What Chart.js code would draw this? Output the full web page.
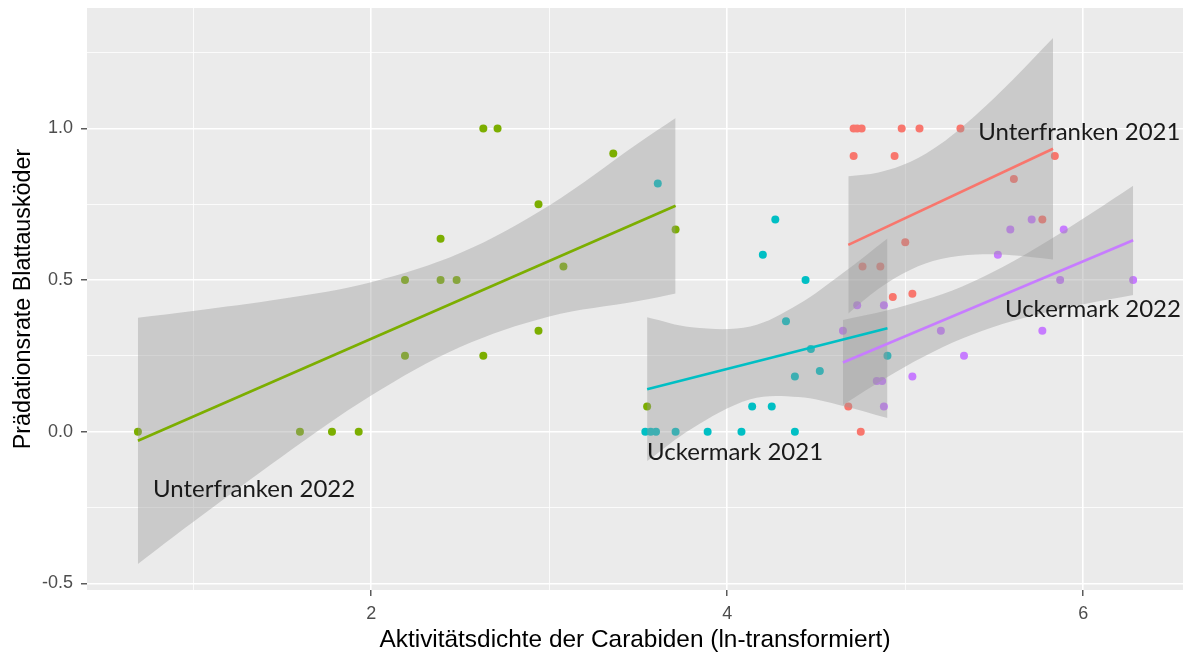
<!DOCTYPE html>
<html>
<head>
<meta charset="utf-8">
<script src="https://cdn.jsdelivr.net/npm/chart.js@4"></script>
<style>
  body { margin: 0; background: #fff; }
  #wrap { width: 1188px; height: 655px; }
</style>
</head>
<body>
<div id="wrap"><canvas id="plot"></canvas></div>
<script>
'use strict';

// axis ticks
const xMajorTicks = [2, 4, 6];
const xMinorTicks = [1, 3, 5];
const xTickLabels = ['2', '4', '6'];
const yMajorTicks = [-0.5, 0, 0.5, 1];
const yMinorTicks = [-0.25, 0.25, 0.75, 1.25];
const yTickLabels = ['-0.5', '0.0', '0.5', '1.0'];

// Unterfranken 2022
const uf22X = [0.69, 1.60, 1.78, 1.93, 2.19, 2.19, 2.39, 2.39, 2.48, 2.63, 2.63, 2.71, 2.94, 2.94, 3.08, 3.36, 3.55, 3.71];
const uf22Y = [0, 0, 0, 0, 0.5, 0.25, 0.636, 0.5, 0.5, 1.0, 0.25, 1.0, 0.75, 0.333, 0.545, 0.917, 0.083, 0.667];
const uf22FitX = [0.69, 3.71];
const uf22FitY = [-0.03, 0.745];
const uf22BandX = [0.69, 1.0, 1.5, 2.0, 2.5, 3.0, 3.5, 3.71];
const uf22BandHi = [0.376, 0.398, 0.438, 0.493, 0.589, 0.746, 0.951, 1.034];
const uf22BandLo = [-0.436, -0.298, -0.082, 0.119, 0.279, 0.380, 0.431, 0.456];

// Uckermark 2021
const um21X = [3.54, 3.57, 3.60, 3.61, 3.71, 3.89, 4.08, 4.14, 4.20, 4.25, 4.27, 4.33, 4.38, 4.38, 4.44, 4.47, 4.52, 4.90];
const um21Y = [0, 0, 0, 0.818, 0, 0, 0, 0.083, 0.583, 0.083, 0.7, 0.364, 0.182, 0, 0.5, 0.273, 0.2, 0.25];
const um21FitX = [3.55, 4.90];
const um21FitY = [0.14, 0.341];
const um21BandX = [3.55, 3.8, 4.13, 4.4, 4.65, 4.90];
const um21BandHi = [0.377, 0.344, 0.347, 0.420, 0.523, 0.637];
const um21BandLo = [-0.097, 0.010, 0.107, 0.114, 0.085, 0.045];

// Unterfranken 2021
const uf21X = [4.68, 4.71, 4.71, 4.73, 4.755, 4.75, 4.76, 4.86, 4.93, 4.94, 4.98, 5.00, 5.04, 5.08, 5.31, 5.61, 5.77, 5.84];
const uf21Y = [0.083, 1.0, 0.909, 1.0, 1.0, 0, 0.545, 0.545, 0.444, 0.909, 1.0, 0.625, 0.455, 1.0, 1.0, 0.833, 0.7, 0.909];
const uf21FitX = [4.68, 5.83];
const uf21FitY = [0.616, 0.933];
const uf21BandX = [4.68, 4.85, 5.03, 5.2, 5.4, 5.6, 5.83];
const uf21BandHi = [0.842, 0.855, 0.890, 0.949, 1.046, 1.158, 1.298];
const uf21BandLo = [0.390, 0.471, 0.534, 0.569, 0.584, 0.582, 0.568];

// Uckermark 2022
const um22X = [4.65, 4.73, 4.84, 4.87, 4.88, 4.88, 5.04, 5.20, 5.33, 5.52, 5.59, 5.71, 5.77, 5.87, 5.89, 6.28];
const um22Y = [0.333, 0.417, 0.167, 0.167, 0.083, 0.417, 0.182, 0.333, 0.25, 0.583, 0.667, 0.7, 0.333, 0.5, 0.667, 0.5];
const um22FitX = [4.65, 6.28];
const um22FitY = [0.228, 0.631];
const um22BandX = [4.65, 4.9, 5.1, 5.32, 5.55, 5.8, 6.05, 6.28];
const um22BandHi = [0.368, 0.400, 0.433, 0.479, 0.544, 0.629, 0.722, 0.811];
const um22BandLo = [0.088, 0.180, 0.246, 0.307, 0.356, 0.395, 0.426, 0.451];

// group labels inside the panel (left edge, vertical middle)
const groupLabels = ['Unterfranken 2022', 'Uckermark 2021', 'Unterfranken 2021', 'Uckermark 2022'];
const groupLabelX = [0.775, 3.55, 5.41, 5.56];
const groupLabelY = [-0.189, -0.067, 0.988, 0.405];

const RED = '#F8766D', GREEN = '#7CAE00', CYAN = '#00BFC4', PURPLE = '#C77CFF';
const BAND = 'rgba(153,153,153,0.4)';

const pts = (xs, ys) => xs.map((x, i) => ({x: x, y: ys[i]}));

function points(xs, ys, color) {
    return {
        type: 'scatter',
        data: pts(xs, ys),
        backgroundColor: color,
        borderWidth: 0,
        pointRadius: 4,
        order: 3
    };
}

function fit(xs, ys, color) {
    return {
        type: 'line',
        data: pts(xs, ys),
        borderColor: color,
        borderWidth: 2.6,
        pointRadius: 0,
        fill: false,
        order: 1
    };
}

// ribbon = upper edge filled down to the following (lower) dataset
function band(xs, hi, lo) {
    return [
        {
            type: 'line',
            data: pts(xs, hi),
            borderWidth: 0,
            borderColor: 'transparent',
            backgroundColor: BAND,
            pointRadius: 0,
            tension: 0.35,
            fill: '+1',
            order: 2
        },
        {
            type: 'line',
            data: pts(xs, lo),
            borderWidth: 0,
            borderColor: 'transparent',
            pointRadius: 0,
            tension: 0.35,
            fill: false,
            order: 2
        }
    ];
}

const panelBg = {
    id: 'panelBg',
    beforeDraw(chart) {
        const {ctx, chartArea: a} = chart;
        ctx.save();
        ctx.fillStyle = '#EBEBEB';
        ctx.fillRect(a.left, a.top, a.right - a.left, a.bottom - a.top);
        ctx.restore();
    }
};

const groupText = {
    id: 'groupText',
    afterDatasetsDraw(chart) {
        const {ctx, scales} = chart;
        ctx.save();
        ctx.font = '24px Lato';
        ctx.fillStyle = '#1a1a1a';
        ctx.textAlign = 'left';
        ctx.textBaseline = 'middle';
        groupLabels.forEach((t, i) => {
            ctx.fillText(t, scales.x.getPixelForValue(groupLabelX[i]), scales.y.getPixelForValue(groupLabelY[i]));
        });
        ctx.restore();
    }
};

const tickFont = {family: 'Liberation Sans', size: 18};

new Chart(document.getElementById('plot'), {
    type: 'scatter',
    data: {
        datasets: [
            fit(uf22FitX, uf22FitY, GREEN),
            fit(um21FitX, um21FitY, CYAN),
            fit(uf21FitX, uf21FitY, RED),
            fit(um22FitX, um22FitY, PURPLE),
            ...band(uf22BandX, uf22BandHi, uf22BandLo),
            ...band(um21BandX, um21BandHi, um21BandLo),
            ...band(uf21BandX, uf21BandHi, uf21BandLo),
            ...band(um22BandX, um22BandHi, um22BandLo),
            points(uf22X, uf22Y, GREEN),
            points(um21X, um21Y, CYAN),
            points(uf21X, uf21Y, RED),
            points(um22X, um22Y, PURPLE)
        ]
    },
    options: {
        responsive: true,
        maintainAspectRatio: false,
        animation: false,
        layout: {padding: {top: 8, right: 5, left: 0, bottom: 0}},
        plugins: {
            legend: {display: false},
            tooltip: {enabled: false}
        },
        scales: {
            x: {
                type: 'linear',
                min: 0.404,
                max: 6.56,
                afterBuildTicks: s => {
                    s.ticks = [...xMinorTicks, ...xMajorTicks].sort((a, b) => a - b).map(v => ({value: v}));
                },
                afterFit: s => {
                    s.height = 65;
                    s.paddingLeft = 0;
                    s.paddingRight = 0;
                },
                border: {display: false},
                grid: {
                    color: '#FFFFFF',
                    lineWidth: c => xMajorTicks.includes(c.tick.value) ? 1.6 : 0.8,
                    tickColor: c => xMajorTicks.includes(c.tick.value) ? '#333333' : 'rgba(0,0,0,0)',
                    tickWidth: 1.2,
                    tickLength: 6
                },
                ticks: {
                    autoSkip: false,
                    maxRotation: 0,
                    padding: 7,
                    color: '#4D4D4D',
                    font: tickFont,
                    callback: v => {
                        const i = xMajorTicks.indexOf(v);
                        return i >= 0 ? xTickLabels[i] : '';
                    }
                },
                title: {
                    display: true,
                    text: 'Aktivitätsdichte der Carabiden (ln-transformiert)',
                    color: '#000',
                    font: {family: 'Liberation Sans', size: 24.4},
                    padding: 0
                }
            },
            y: {
                type: 'linear',
                min: -0.522,
                max: 1.397,
                afterBuildTicks: s => {
                    s.ticks = [...yMinorTicks, ...yMajorTicks].sort((a, b) => a - b).map(v => ({value: v}));
                },
                afterFit: s => {
                    s.width = 87;
                    s.paddingTop = 0;
                    s.paddingBottom = 0;
                },
                border: {display: false},
                grid: {
                    color: '#FFFFFF',
                    lineWidth: c => yMajorTicks.includes(c.tick.value) ? 1.6 : 0.8,
                    tickColor: c => yMajorTicks.includes(c.tick.value) ? '#333333' : 'rgba(0,0,0,0)',
                    tickWidth: 1.2,
                    tickLength: 6
                },
                ticks: {
                    autoSkip: false,
                    padding: 8,
                    color: '#4D4D4D',
                    font: tickFont,
                    callback: v => {
                        const i = yMajorTicks.indexOf(v);
                        return i >= 0 ? yTickLabels[i] : '';
                    }
                },
                title: {
                    display: true,
                    text: 'Prädationsrate Blattausköder',
                    color: '#000',
                    font: {family: 'Liberation Sans', size: 23.3},
                    padding: {top: 10, bottom: 0}
                }
            }
        }
    },
    plugins: [panelBg, groupText]
});
</script>
</body>
</html>
